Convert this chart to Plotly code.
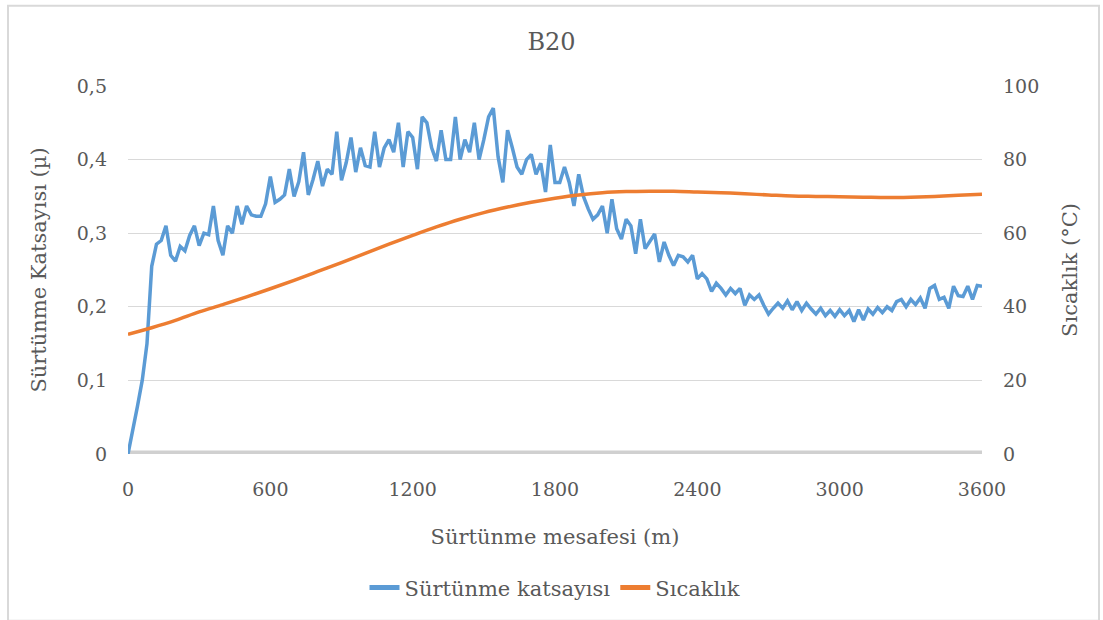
import numpy as np
import plotly.graph_objects as go

# Friction coefficient sampled every 20 m of sliding distance (0 .. 3600 m)
distance_mu = np.arange(0, 3601, 20)
mu = [
    0.000, 0.030, 0.065, 0.100, 0.150, 0.255, 0.285, 0.290, 0.310, 0.270,
    0.262, 0.282, 0.276, 0.297, 0.310, 0.283, 0.300, 0.298, 0.337, 0.290,
    0.270, 0.310, 0.300, 0.337, 0.312, 0.337, 0.325, 0.323, 0.323, 0.340,
    0.377, 0.342, 0.346, 0.352, 0.387, 0.350, 0.370, 0.410, 0.352, 0.373,
    0.398, 0.364, 0.387, 0.380, 0.438, 0.372, 0.396, 0.430, 0.383, 0.416,
    0.392, 0.390, 0.438, 0.390, 0.416, 0.427, 0.410, 0.450, 0.390, 0.438,
    0.430, 0.387, 0.458, 0.450, 0.416, 0.398, 0.440, 0.400, 0.400, 0.458,
    0.400, 0.427, 0.410, 0.450, 0.400, 0.427, 0.458, 0.470, 0.404, 0.369,
    0.440, 0.416, 0.390, 0.380, 0.400, 0.407, 0.380, 0.395, 0.356, 0.420,
    0.369, 0.369, 0.390, 0.369, 0.337, 0.380, 0.350, 0.333, 0.319, 0.325,
    0.337, 0.300, 0.346, 0.306, 0.292, 0.319, 0.310, 0.272, 0.319, 0.279,
    0.288, 0.299, 0.261, 0.288, 0.270, 0.256, 0.270, 0.268, 0.261, 0.270,
    0.238, 0.245, 0.238, 0.221, 0.232, 0.225, 0.216, 0.225, 0.218, 0.225,
    0.202, 0.216, 0.210, 0.216, 0.202, 0.190, 0.198, 0.205, 0.198, 0.208,
    0.196, 0.207, 0.195, 0.205, 0.197, 0.190, 0.198, 0.188, 0.195, 0.187,
    0.196, 0.188, 0.195, 0.180, 0.196, 0.182, 0.197, 0.190, 0.199, 0.192,
    0.200, 0.195, 0.207, 0.210, 0.200, 0.210, 0.203, 0.212, 0.198, 0.225,
    0.229, 0.210, 0.213, 0.198, 0.228, 0.215, 0.214, 0.228, 0.210, 0.229,
    0.228,
]

# Temperature sampled every 100 m
distance_t = np.arange(0, 3601, 100)
temperature = [
    32.5, 34.3, 36.3, 38.6, 40.6, 42.7, 44.9, 47.2, 49.6, 52.0,
    54.5, 57.0, 59.4, 61.7, 63.8, 65.6, 67.1, 68.4, 69.5, 70.4,
    71.0, 71.3, 71.4, 71.4, 71.2, 71.0, 70.7, 70.4, 70.1, 70.0,
    69.9, 69.8, 69.7, 69.8, 70.0, 70.3, 70.6,
]

x_ticks = [0, 600, 1200, 1800, 2400, 3000, 3600]
mu_ticks = [0, 0.1, 0.2, 0.3, 0.4, 0.5]
mu_tick_text = ["0", "0,1", "0,2", "0,3", "0,4", "0,5"]

FONT = "DejaVu Serif"
GREY = "#595959"

fig = go.Figure()
fig.add_trace(go.Scatter(
    x=distance_mu, y=mu, mode="lines", name="Sürtünme katsayısı",
    line=dict(color="#5b9bd5", width=3.5),
))
fig.add_trace(go.Scatter(
    x=distance_t, y=temperature, mode="lines", name="Sıcaklık",
    line=dict(color="#ed7d31", width=3.5, shape="spline"), yaxis="y2",
))

W, H = 1103, 620
L, R, T, B = 128, 121, 86, 163
pw, ph = W - L - R, H - T - B

def px(x):
    return (x - L) / pw

def py(y):
    return (H - B - y) / ph

fig.update_layout(
    width=W, height=H,
    margin=dict(l=L, r=R, t=T, b=B),
    paper_bgcolor="white", plot_bgcolor="white",
    separators=", ",
    font=dict(family=FONT, color=GREY, size=19),
    title=dict(text="B20", x=0.5, xanchor="center", y=1 - 42 / H, yanchor="middle",
               font=dict(size=24, color=GREY, family=FONT)),
    xaxis=dict(
        range=[0, 3600], tickvals=x_ticks, showgrid=False, zeroline=False,
        showline=False, ticks="", ticklabelstandoff=22,
        tickfont=dict(family=FONT, size=19, color=GREY),
        title=dict(text="Sürtünme mesafesi (m)", standoff=30,
                   font=dict(family=FONT, size=21, color=GREY)),
    ),
    yaxis=dict(
        range=[0, 0.5], tickvals=mu_ticks, ticktext=mu_tick_text, showgrid=True,
        gridcolor="#d9d9d9", gridwidth=1, zeroline=False, showline=False,
        ticks="", ticklabelstandoff=20,
        tickfont=dict(family=FONT, size=19, color=GREY),
        title=dict(text="Sürtünme Katsayısı (µ)", standoff=24,
                   font=dict(family=FONT, size=21, color=GREY)),
    ),
    yaxis2=dict(
        range=[0, 100], dtick=20, overlaying="y", side="right", showgrid=False,
        zeroline=False, showline=False, ticks="", ticklabelstandoff=20,
        tickfont=dict(family=FONT, size=19, color=GREY),
        title=dict(text="Sıcaklık (°C)", standoff=24,
                   font=dict(family=FONT, size=21, color=GREY)),
    ),
    legend=dict(orientation="h", x=0.5, xanchor="center", y=py(592), yanchor="middle",
                font=dict(family=FONT, size=21, color=GREY), itemwidth=30,
                tracegroupgap=0, itemsizing="constant"),
    showlegend=True,
    shapes=[
        # thick baseline along the distance axis
        dict(type="line", xref="paper", yref="y", x0=0, x1=1, y0=0, y1=0,
             line=dict(color="#d0d0d0", width=7), layer="below"),
        # chart frame
        dict(type="rect", xref="paper", yref="paper",
             x0=px(8), x1=px(1099), y0=py(625), y1=py(5),
             line=dict(color="#d9d9d9", width=2), layer="below"),
    ],
)

fig.write_html("out.html")
